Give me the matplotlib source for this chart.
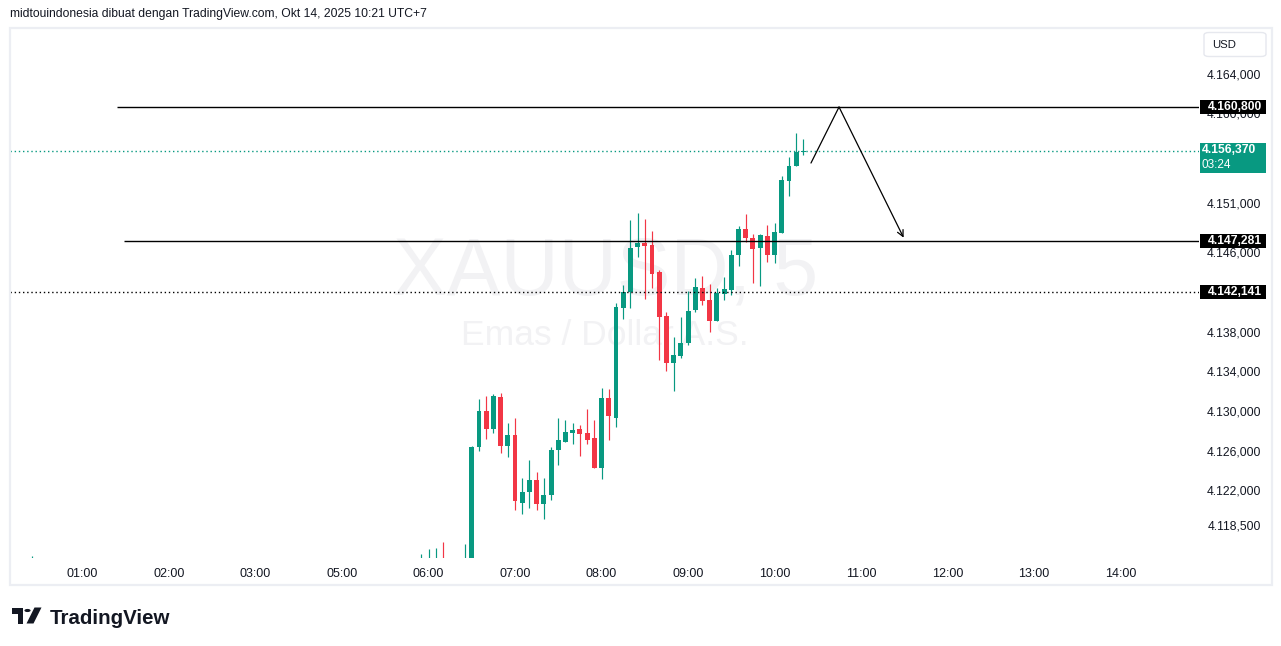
import matplotlib
matplotlib.use('Agg')
import matplotlib.pyplot as plt
from matplotlib.patches import Rectangle, FancyBboxPatch, Polygon, Circle
import numpy as np

plt.rcParams['font.family'] = ['Liberation Sans', 'DejaVu Sans']

# ---------------- data ----------------
# 5-minute candles, index 0 = 05:55 candle (index 1 = 06:00)
opens = [4113.0, 4114.0, 4114.5, 4115.2, 4114.3, 4113.8, 4114.6, 4115.2,
         4126.54, 4130.14, 4128.35, 4131.55, 4126.64, 4127.72, 4120.89, 4122.00,
         4123.18, 4120.79, 4121.70, 4126.21, 4127.04, 4127.95, 4128.32, 4127.92,
         4127.42, 4124.42, 4131.45, 4129.46, 4140.53, 4142.14, 4146.68, 4147.08,
         4146.88, 4144.16, 4139.72, 4134.98, 4135.69, 4137.00, 4140.33, 4142.54,
         4141.33, 4139.22, 4141.94, 4142.34, 4145.87, 4148.50, 4147.59, 4146.58,
         4147.79, 4145.87, 4148.09, 4153.34, 4154.85, 4156.26]
highs = [4115.72, 4116.22, 4116.32, 4116.93, 4115.10, 4114.90, 4116.73, 4126.60,
         4131.35, 4131.65, 4131.85, 4131.95, 4128.96, 4129.43, 4123.38, 4125.20,
         4123.99, 4123.38, 4126.51, 4129.43, 4129.23, 4128.93, 4128.73, 4130.34,
         4129.23, 4132.46, 4132.36, 4141.03, 4142.85, 4149.40, 4150.11, 4149.50,
         4148.29, 4144.36, 4140.12, 4137.60, 4139.62, 4142.24, 4143.55, 4143.76,
         4142.95, 4142.54, 4143.65, 4146.38, 4148.80, 4150.01, 4147.99, 4147.99,
         4148.90, 4149.10, 4153.84, 4155.76, 4158.18, 4157.57]
lows = [4112.0, 4113.0, 4113.5, 4113.8, 4113.2, 4113.0, 4114.0, 4114.8,
        4126.14, 4127.32, 4127.95, 4125.93, 4125.53, 4120.18, 4119.78, 4120.39,
        4120.18, 4119.28, 4121.19, 4124.72, 4127.04, 4126.84, 4125.63, 4126.84,
        4124.42, 4123.31, 4127.24, 4128.56, 4139.42, 4140.53, 4145.67, 4141.44,
        4142.54, 4135.28, 4134.17, 4132.16, 4135.48, 4136.80, 4140.12, 4140.83,
        4138.11, 4139.22, 4141.33, 4141.84, 4144.76, 4147.18, 4143.05, 4142.75,
        4145.17, 4145.07, 4148.09, 4151.82, 4154.85, 4155.96]
closes = [4114.5, 4115.0, 4115.2, 4114.3, 4113.8, 4114.6, 4115.2, 4126.51,
          4130.14, 4128.35, 4131.65, 4126.64, 4127.72, 4121.09, 4121.97, 4123.18,
          4120.79, 4121.67, 4126.21, 4127.21, 4128.02, 4128.22, 4127.85, 4127.24,
          4124.42, 4131.45, 4129.67, 4140.63, 4142.14, 4146.58, 4147.08, 4146.78,
          4143.96, 4139.62, 4134.98, 4135.79, 4137.00, 4140.23, 4142.65, 4141.23,
          4139.22, 4142.04, 4142.44, 4145.87, 4148.50, 4147.59, 4146.48, 4147.89,
          4145.87, 4148.19, 4153.44, 4154.85, 4156.26, 4156.37]
# lone early candle (00:25) barely visible at the bottom edge
early_idx = -54
early_ohlc = (4113.9, 4115.5, 4113.2, 4114.6)

time_labels = ['01:00', '02:00', '03:00', '05:00', '06:00', '07:00', '08:00',
               '09:00', '10:00', '11:00', '12:00', '13:00', '14:00']
time_label_idx = [-47, -35, -23, -11, 1, 13, 25, 37, 49, 61, 73, 85, 97]

price_ticks = [4164, 4160, 4151, 4146, 4138, 4134, 4130, 4126, 4122, 4118.5]

resistance = 4160.800
support = 4147.281
dotted_level = 4142.141
last_price = 4156.370
countdown = '03:24'

# drawn path (index, price)
path_x = [54.05, 57.94, 66.9]
path_y = [4155.15, 4160.8, 4147.62]

GREEN = '#089981'
RED = '#F23645'

# ---------------- figure ----------------
W, H = 1281, 646
fig = plt.figure(figsize=(W / 100, H / 100), dpi=100)
fig.patch.set_facecolor('white')

ax_l, ax_r, ax_t, ax_b = 10, 1199, 28, 558
ax = fig.add_axes([ax_l / W, (H - ax_b) / H, (ax_r - ax_l) / W, (ax_b - ax_t) / H])
ax.set_facecolor('white')
ax.set_xlim(-57.05, 107.87)
ax.set_ylim(4115.31, 4168.77)
for s in ax.spines.values():
    s.set_visible(False)
ax.set_yticks([])

# watermark
ax.text(606 / W, 1 - 295 / H, 'XAUUSD, 5', transform=fig.transFigure, ha='center',
        va='baseline', fontsize=58, color='#f2f2f4', zorder=0)
ax.text(605 / W, 1 - 345 / H, 'Emas / Dollar A.S.', transform=fig.transFigure,
        ha='center', va='baseline', fontsize=25.5, color='#f2f2f4', zorder=0)

# candles
idx = np.arange(len(opens))
o = np.array(opens); h = np.array(highs); l = np.array(lows); c = np.array(closes)
cols = [GREEN if cc >= oo else RED for oo, cc in zip(o, c)]
ax.vlines(idx, l, h, colors=cols, linewidth=0.85, zorder=3)
bottoms = np.minimum(o, c)
heights = np.maximum(np.abs(c - o), 0.1)
ax.bar(idx, heights, bottom=bottoms, width=0.68, color=cols, linewidth=0, zorder=4)
eo, eh, el, ec = early_ohlc
ax.vlines([early_idx], [el], [eh], colors=[GREEN], linewidth=0.85, zorder=3)

# horizontal levels
ax.hlines(resistance, -42.2, 107.87, colors='black', linewidth=1.0, zorder=5)
ax.hlines(support, -41.2, 107.87, colors='black', linewidth=1.0, zorder=5)
ax.axhline(dotted_level, color='black', linewidth=1.0, linestyle=(0, (1, 2.0)), zorder=5)
ax.axhline(last_price, color=GREEN, linewidth=1.0, linestyle=(0, (1, 2.0)), zorder=2)

# drawn projection path
ax.plot(path_x[:2], path_y[:2], color='black', linewidth=0.9, zorder=6,
        solid_capstyle='round')
ax.annotate('', xy=(path_x[2], path_y[2]), xytext=(path_x[1], path_y[1]),
            arrowprops=dict(arrowstyle='->', color='black', lw=0.9,
                            mutation_scale=11, shrinkA=0, shrinkB=0), zorder=6)

# time axis
ax.set_xticks(time_label_idx)
ax.set_xticklabels(time_labels)
ax.tick_params(axis='x', length=0, pad=7, labelsize=9, labelcolor='#131722')


def fmt(v):
    s = f'{v:,.3f}'
    return s.replace(',', '#').replace('.', ',').replace('#', '.')


yt = ax.get_yaxis_transform()
for v in price_ticks:
    ax.text((1261 - ax_l) / (ax_r - ax_l), v, fmt(v), transform=yt, ha='right',
            va='center', fontsize=8.7, color='#131722', clip_on=False, zorder=1)

bx = (1200 - ax_l) / (ax_r - ax_l)
bw = 66 / (ax_r - ax_l)
ppx = (4168.77 - 4115.31) / (ax_b - ax_t)  # price per pixel
tx = (1207.5 - ax_l) / (ax_r - ax_l)


def level_box(v, color='black'):
    ax.add_patch(Rectangle((bx, v - 7 * ppx), bw, 14 * ppx, transform=yt,
                           facecolor=color, edgecolor='none', clip_on=False, zorder=7))
    ax.text(tx, v, fmt(v), transform=yt, ha='left', va='center', fontsize=8.7,
            fontweight='bold', color='white', clip_on=False, zorder=8)


level_box(resistance)
level_box(support)
level_box(dotted_level)

# last price box (two lines)
ax.add_patch(Rectangle((bx, last_price - 22.3 * ppx), bw, 30.6 * ppx, transform=yt,
                       facecolor=GREEN, edgecolor='none', clip_on=False, zorder=7))
ax.text((1202 - ax_l) / (ax_r - ax_l), last_price + 0.5 * ppx, fmt(last_price),
        transform=yt, ha='left', va='center', fontsize=8.7, fontweight='bold',
        color='white', clip_on=False, zorder=8)
ax.text((1202 - ax_l) / (ax_r - ax_l), last_price - 14.5 * ppx, countdown, transform=yt,
        ha='left', va='center', fontsize=8.5, color='white', clip_on=False, zorder=8)

# USD box
fig.patches.append(FancyBboxPatch((1204 / W, 1 - 56.5 / H), 62 / W, 24 / H,
                                  boxstyle='round,pad=0,rounding_size=0.004',
                                  transform=fig.transFigure, facecolor='white',
                                  edgecolor='#e6e8ee', linewidth=1.0))
fig.text(1212 / W, 1 - 44.5 / H, 'USD', ha='left', va='center', fontsize=8.2,
         color='#131722')

# outer frame
fig.patches.append(Rectangle((9.5 / W, (H - 585) / H), (1272 - 9.5) / W, (585 - 28) / H,
                             transform=fig.transFigure, fill=False,
                             edgecolor='#eceef3', linewidth=1.6))

# header
fig.text(10 / W, 1 - 14 / H,
         'midtouindonesia dibuat dengan TradingView.com, Okt 14, 2025 10:21 UTC+7',
         ha='left', va='center', fontsize=8.7, color='#131722')

# TradingView logo
def px(x, y):
    return (x / W, 1 - y / H)

logo_col = '#131722'
fig.patches.append(Polygon([px(11.5, 607.5), px(22.5, 607.5), px(22.5, 623.5),
                            px(17.5, 623.5), px(17.5, 613.5), px(11.5, 613.5)],
                           closed=True, transform=fig.transFigure, facecolor=logo_col,
                           edgecolor='none'))
fig.patches.append(Circle(px(27.5, 610.5), 3.1 / W, transform=fig.transFigure,
                          facecolor=logo_col, edgecolor='none'))
fig.patches.append(Polygon([px(26.5, 623.5), px(33.5, 623.5), px(41.5, 607.5),
                            px(34.5, 607.5)], closed=True, transform=fig.transFigure,
                           facecolor=logo_col, edgecolor='none'))
fig.text(50 / W, 1 - 623.5 / H, 'TradingView', ha='left', va='baseline', fontsize=14.8,
         fontweight='bold', color=logo_col)

fig.savefig('out.png', dpi=100, facecolor='white')
